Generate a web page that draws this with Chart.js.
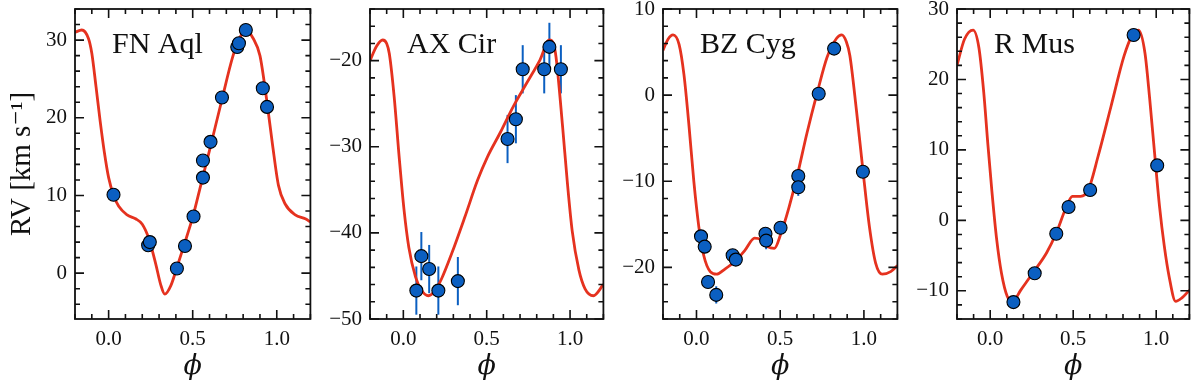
<!DOCTYPE html>
<html>
<head>
<meta charset="utf-8">
<script src="https://cdn.jsdelivr.net/npm/chart.js@4.4.0/dist/chart.umd.min.js"></script>
<style>
  body { margin: 0; background: #fff; width: 1200px; height: 386px; overflow: hidden; position: relative; }
  canvas { position: absolute; top: 0; }
</style>
</head>
<body>
<canvas id="c1" width="318" height="386" style="left:0px"></canvas>
<canvas id="c2" width="301" height="386" style="left:310px"></canvas>
<canvas id="c3" width="302" height="386" style="left:603px"></canvas>
<canvas id="c4" width="300" height="386" style="left:897px"></canvas>
<script>
// ---- FN Aql ----
const fnPhase = [0.029, 0.235, 0.245, 0.406, 0.454, 0.505, 0.561, 0.561, 0.606, 0.674, 0.765, 0.775, 0.816, 0.917, 0.942];
const fnRV    = [10.1, 3.6, 4.0, 0.6, 3.5, 7.3, 12.3, 14.5, 16.9, 22.6, 29.1, 29.6, 31.3, 23.8, 21.4];
const fnCurvePhase = [-0.2, -0.16, -0.12, -0.1, -0.075, -0.05, -0.025, 0.0, 0.03, 0.06, 0.11, 0.16, 0.2, 0.24, 0.28, 0.31, 0.334, 0.37, 0.41, 0.45, 0.5, 0.55, 0.6, 0.67, 0.74, 0.78, 0.82, 0.86, 0.9, 0.94, 0.975, 1.01, 1.05, 1.11, 1.17, 1.2];
const fnCurveRV    = [31.0, 31.3, 30.2, 28.3, 24.0, 19.5, 15.5, 12.3, 10.0, 8.6, 7.5, 7.0, 6.3, 4.4, 1.2, -1.5, -2.7, -1.6, 1.0, 3.7, 7.2, 11.5, 15.8, 22.0, 28.0, 30.3, 31.2, 30.2, 28.0, 22.3, 16.5, 11.3, 8.9, 7.5, 7.0, 6.6];

// ---- AX Cir ----
const axPhase = [0.078, 0.108, 0.155, 0.21, 0.327, 0.625, 0.675, 0.716, 0.845, 0.876, 0.945];
const axRV    = [-46.7, -42.7, -44.2, -46.7, -45.6, -29.1, -26.8, -21.0, -21.0, -18.4, -21.0];
const axErr   = [2.8, 2.8, 2.8, 2.8, 2.8, 2.8, 2.8, 2.8, 2.8, 2.8, 2.8];
const axCurvePhase = [-0.2, -0.16, -0.124, -0.1, -0.084, -0.055, -0.025, 0.004, 0.033, 0.073, 0.11, 0.15, 0.19, 0.23, 0.29, 0.37, 0.445, 0.504, 0.58, 0.66, 0.74, 0.82, 0.876, 0.9, 0.916, 0.955, 0.984, 1.013, 1.053, 1.09, 1.14, 1.2];
const axCurveRV    = [-20.0, -18.3, -17.6, -18.0, -19.2, -24.2, -31.2, -37.3, -41.7, -45.1, -46.7, -47.3, -46.7, -45.3, -42.4, -38.1, -33.9, -31.2, -28.4, -25.3, -22.6, -19.9, -17.6, -18.0, -19.6, -27.6, -34.2, -39.8, -44.3, -46.5, -47.3, -46.0];

// ---- BZ Cyg ----
const bzPhase = [0.027, 0.049, 0.069, 0.118, 0.216, 0.235, 0.412, 0.416, 0.502, 0.608, 0.608, 0.73, 0.822, 0.994];
const bzRV    = [-16.4, -17.6, -21.7, -23.2, -18.6, -19.1, -16.1, -16.9, -15.4, -9.4, -10.7, 0.15, 5.4, -8.9];
const bzErr   = [0.6, 0.6, 0.6, 1.0, 0.6, 0.6, 0.6, 1.0, 0.6, 0.6, 1.0, 0.6, 0.6, 0.6];
const bzCurvePhase = [-0.2, -0.17, -0.14, -0.104, -0.075, -0.045, -0.016, 0.014, 0.043, 0.082, 0.12, 0.17, 0.23, 0.29, 0.347, 0.386, 0.425, 0.465, 0.504, 0.553, 0.6, 0.66, 0.72, 0.78, 0.837, 0.867, 0.895, 0.916, 0.955, 0.994, 1.033, 1.07, 1.11, 1.16, 1.2];
const bzCurveRV    = [5.2, 6.5, 7.0, 5.9, 2.4, -3.5, -10.0, -15.3, -18.6, -20.5, -20.8, -20.2, -19.3, -18.0, -16.6, -16.8, -17.6, -17.8, -16.1, -13.0, -9.5, -4.4, 0.2, 4.4, 6.6, 7.0, 6.2, 4.6, -1.7, -8.7, -15.3, -19.5, -20.8, -20.5, -19.8];

// ---- R Mus ----
const rmPhase = [0.14, 0.268, 0.398, 0.472, 0.602, 0.864, 1.006];
const rmRV    = [-11.6, -7.5, -1.9, 1.9, 4.3, 26.3, 7.8];
const rmCurvePhase = [-0.2, -0.155, -0.103, -0.068, -0.039, -0.014, 0.01, 0.039, 0.068, 0.103, 0.136, 0.184, 0.262, 0.34, 0.398, 0.456, 0.495, 0.544, 0.592, 0.65, 0.728, 0.806, 0.854, 0.893, 0.932, 0.961, 0.99, 1.02, 1.049, 1.078, 1.117, 1.155, 1.2];
const rmCurveRV    = [22.0, 25.7, 27.0, 24.5, 18.2, 10.8, 4.2, -2.7, -7.5, -10.8, -11.5, -9.9, -7.3, -4.6, -1.8, 1.75, 3.4, 3.4, 4.4, 9.1, 16.2, 23.3, 26.2, 27.0, 23.8, 17.2, 9.6, 2.0, -3.7, -8.0, -11.5, -11.0, -9.9];

const blue = '#0b5fc1';
const red = '#e5321f';
const ink = '#111';
const serif = "'Liberation Serif', 'DejaVu Serif', serif";

function toXY(xs, ys) {
    return xs.map((x, i) => ({ x: x, y: ys[i] }));
}

// cadre + ticks vers l'intérieur, style matplotlib
const frameTicks = {
    id: 'frameTicks',
    afterDraw(chart, args, o) {
        const { ctx, chartArea: a, scales: { x, y } } = chart;
        ctx.save();
        ctx.strokeStyle = ink;
        ctx.lineWidth = 1.6;
        const drawX = (v, len) => {
            const px = x.getPixelForValue(v);
            ctx.beginPath();
            ctx.moveTo(px, a.bottom); ctx.lineTo(px, a.bottom - len);
            ctx.moveTo(px, a.top); ctx.lineTo(px, a.top + len);
            ctx.stroke();
        };
        const drawY = (v, len) => {
            const py = y.getPixelForValue(v);
            ctx.beginPath();
            ctx.moveTo(a.left, py); ctx.lineTo(a.left + len, py);
            ctx.moveTo(a.right, py); ctx.lineTo(a.right - len, py);
            ctx.stroke();
        };
        for (let k = Math.ceil(x.min / 0.1 - 1e-6); k * 0.1 <= x.max + 1e-6; k++) drawX(k * 0.1, k % 5 === 0 ? 9 : 5);
        for (let k = Math.ceil(y.min / 2 - 1e-6); k * 2 <= y.max + 1e-6; k++) drawY(k * 2, k % 5 === 0 ? 9 : 5);
        ctx.lineWidth = 1.8;
        ctx.strokeRect(a.left, a.top, a.right - a.left, a.bottom - a.top);
        // nom de l'étoile
        ctx.fillStyle = ink;
        ctx.font = '30px ' + serif;
        ctx.textBaseline = 'alphabetic';
        ctx.fillText(o.name, a.left + 37, a.top + 44);
        ctx.restore();
    }
};

const errorBars = {
    id: 'errorBars',
    beforeDatasetsDraw(chart, args, o) {
        if (!o.err) return;
        const { ctx, scales: { x, y } } = chart;
        ctx.save();
        ctx.strokeStyle = blue;
        ctx.lineWidth = 2;
        o.err.forEach((e, i) => {
            const px = x.getPixelForValue(o.xs[i]);
            ctx.beginPath();
            ctx.moveTo(px, y.getPixelForValue(o.ys[i] - e));
            ctx.lineTo(px, y.getPixelForValue(o.ys[i] + e));
            ctx.stroke();
        });
        ctx.restore();
    }
};

function makePanel(id, p) {
    const ctx = document.getElementById(id).getContext('2d');
    return new Chart(ctx, {
        type: 'scatter',
        data: {
            datasets: [
                {
                    data: toXY(p.xs, p.ys),
                    backgroundColor: blue,
                    borderColor: '#000',
                    borderWidth: 1.1,
                    pointRadius: 6.5
                },
                {
                    data: toXY(p.cx, p.cy),
                    showLine: true,
                    borderColor: red,
                    borderWidth: 2.8,
                    pointRadius: 0,
                    cubicInterpolationMode: 'monotone'
                }
            ]
        },
        options: {
            responsive: false,
            animation: false,
            events: [],
            layout: { padding: { top: 9, right: 3, left: 0, bottom: 0 } },
            plugins: {
                legend: { display: false },
                tooltip: { enabled: false },
                frameTicks: { name: p.name },
                errorBars: { err: p.err, xs: p.xs, ys: p.ys }
            },
            scales: {
                x: {
                    type: 'linear',
                    min: -0.2, max: 1.2,
                    grid: { display: false, drawTicks: false },
                    border: { display: false },
                    ticks: {
                        stepSize: 0.5, includeBounds: false, padding: 8,
                        color: ink, font: { family: serif, size: 21 },
                        maxRotation: 0,
                        callback: v => v.toFixed(1)
                    },
                    title: { display: true, text: '\u03D5', color: ink, font: { family: "'DejaVu Serif', serif", size: 27, style: 'italic' }, padding: { top: 0, bottom: 3 } },
                    afterFit: s => { s.height = 67; s.paddingLeft = 0; s.paddingRight = 0; }
                },
                y: {
                    min: p.ymin, max: p.ymax,
                    grid: { display: false, drawTicks: false },
                    border: { display: false },
                    ticks: {
                        stepSize: 10, includeBounds: false, padding: 8,
                        color: ink, font: { family: serif, size: 21 },
                        callback: v => (v < 0 ? '\u2212' + Math.abs(v) : String(v))
                    },
                    title: {
                        display: !!p.ytitle, text: p.ytitle || '', color: ink,
                        font: { family: serif, size: 29 }, padding: { top: 5, bottom: 0 }
                    },
                    afterFit: s => { s.width = p.yw; s.paddingTop = 0; s.paddingBottom = 0; }
                }
            }
        },
        plugins: [frameTicks, errorBars]
    });
}

makePanel('c1', { name: 'FN Aql', xs: fnPhase, ys: fnRV, cx: fnCurvePhase, cy: fnCurveRV, ymin: -5.9, ymax: 34, yw: 75, ytitle: 'RV [km s\u207B\u00B9]' });
makePanel('c2', { name: 'AX Cir', xs: axPhase, ys: axRV, err: axErr, cx: axCurvePhase, cy: axCurveRV, ymin: -50, ymax: -14, yw: 60 });
makePanel('c3', { name: 'BZ Cyg', xs: bzPhase, ys: bzRV, err: bzErr, cx: bzCurvePhase, cy: bzCurveRV, ymin: -26, ymax: 10, yw: 60 });
makePanel('c4', { name: 'R Mus', xs: rmPhase, ys: rmRV, cx: rmCurvePhase, cy: rmCurveRV, ymin: -14, ymax: 30, yw: 60 });
</script>
</body>
</html>
